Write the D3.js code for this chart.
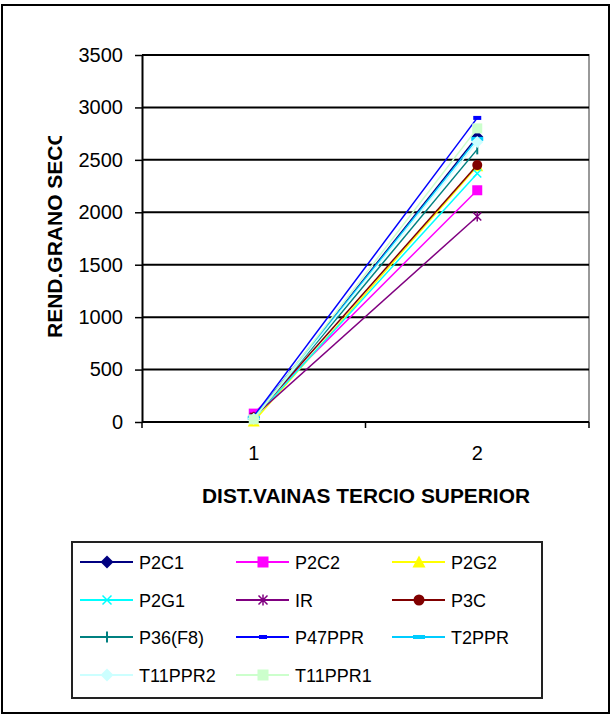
<!DOCTYPE html>
<html><head><meta charset="utf-8">
<script src="https://cdn.jsdelivr.net/npm/d3@7"></script>
<style>body{margin:0;background:#fff}svg{display:block;font-family:"Liberation Sans",Arial,sans-serif}</style>
</head><body><svg id="c" width="613" height="719"></svg>
<script>
const categories = ["1", "2"];
const seriesNames = ["P2C1","P2C2","P2G2","P2G1","IR","P3C","P36(F8)","P47PPR","T2PPR","T11PPR2","T11PPR1"];
const seriesValues = [
  [40, 2720],
  [80, 2210],
  [5, 2440],
  [30, 2370],
  [50, 1960],
  [45, 2450],
  [35, 2600],
  [55, 2900],
  [40, 2700],
  [30, 2670],
  [25, 2800]
];
const seriesColors = ["#000080","#FF00FF","#FFFF00","#00FFFF","#800080","#800000","#008080","#0000FF","#00CCFF","#CCFFFF","#CCFFCC"];
const seriesMarkers = ["diamond","square","triangle","x","star","circle","plus","dash","longdash","diamond","square"];
const yTicks = [0,500,1000,1500,2000,2500,3000,3500];
const xTitle = "DIST.VAINAS TERCIO SUPERIOR";
const yTitle = "REND.GRANO SECO";

const svg = d3.select("#c");
const L = 142, R = 589, T = 55, B = 422;
const y = d3.scaleLinear().domain([0,3500]).range([B,T]);
const x = d3.scalePoint().domain(categories).range([L,R]).padding(0.5);

// outer border
svg.append("rect").attr("x",2).attr("y",5).attr("width",607).attr("height",708)
  .attr("fill","#fff").attr("stroke","#000").attr("stroke-width",2);

// plot area border (gray top & right)
svg.append("path").attr("d",`M${L},${T}H${R}V${B}`).attr("fill","none").attr("stroke","#999").attr("stroke-width",2);

// gridlines
svg.append("g").selectAll("line").data(yTicks.filter(d=>d>0)).join("line")
  .attr("x1",L).attr("x2",R).attr("y1",d=>y(d)).attr("y2",d=>y(d))
  .attr("stroke","#000").attr("stroke-width",2);

// y axis
const ya = svg.append("g").attr("transform",`translate(${L},0)`)
  .call(d3.axisLeft(y).tickValues(yTicks).tickFormat(d3.format("d")).tickSize(7).tickPadding(12).tickSizeOuter(0));
ya.select(".domain").attr("stroke","#000").attr("stroke-width",2);
ya.selectAll(".tick line").attr("stroke","#000").attr("stroke-width",1.5);
ya.selectAll(".tick text").attr("font-size",20).attr("fill","#000").attr("font-family","Liberation Sans, Arial, sans-serif");

// x axis
svg.append("line").attr("x1",L).attr("x2",R).attr("y1",B).attr("y2",B).attr("stroke","#000").attr("stroke-width",2);
const step = x.step();
const bounds = [L, ...categories.map(c=>x(c)+step/2)];
svg.append("g").selectAll("line").data(bounds).join("line")
  .attr("x1",d=>d).attr("x2",d=>d).attr("y1",B).attr("y2",B+6).attr("stroke","#000").attr("stroke-width",1.5);
svg.append("g").selectAll("text").data(categories).join("text")
  .attr("x",d=>x(d)).attr("y",460).attr("text-anchor","middle").attr("font-size",20).text(d=>d);

// titles
svg.append("text").attr("x",366).attr("y",503).attr("text-anchor","middle")
  .attr("font-size",21).attr("font-weight","bold").attr("textLength",328).attr("lengthAdjust","spacingAndGlyphs")
  .text(xTitle);
svg.append("clipPath").attr("id","yclip").append("rect").attr("x",0).attr("y",136).attr("width",140).attr("height",300);
svg.append("g").attr("clip-path","url(#yclip)").append("text")
  .attr("transform","translate(62,338) rotate(-90)").attr("text-anchor","start")
  .attr("font-size",21).attr("font-weight","bold").text(yTitle);

// markers
function marker(g, type, color, s) {
  const h = s/2;
  switch(type){
    case "diamond": g.append("path").attr("d",`M0,${-h-1}L${h+1},0L0,${h+1}L${-h-1},0Z`).attr("fill",color); break;
    case "square": g.append("rect").attr("x",-h).attr("y",-h).attr("width",s).attr("height",s).attr("fill",color); break;
    case "triangle": g.append("path").attr("d",`M0,${-h-1}L${h+1},${h}L${-h-1},${h}Z`).attr("fill",color); break;
    case "circle": g.append("circle").attr("r",h).attr("fill",color); break;
    case "x": g.append("path").attr("d",`M${-h+1},${-h+1}L${h-1},${h-1}M${h-1},${-h+1}L${-h+1},${h-1}`).attr("stroke",color).attr("stroke-width",1.5); break;
    case "star": g.append("path").attr("d",`M${-h+1},${-h+1}L${h-1},${h-1}M${h-1},${-h+1}L${-h+1},${h-1}M0,${-h}V${h}`).attr("stroke",color).attr("stroke-width",1.5); break;
    case "plus": g.append("path").attr("d",`M0,${-h}V${h}`).attr("stroke",color).attr("stroke-width",2); break;
    case "dash": g.append("rect").attr("x",-4).attr("y",-2).attr("width",8).attr("height",4).attr("fill",color); break;
    case "longdash": g.append("rect").attr("x",-6).attr("y",-2).attr("width",12).attr("height",4).attr("fill",color); break;
  }
}

const line = d3.line().x((d,i)=>x(categories[i])).y(d=>y(d));
seriesNames.forEach((name,si)=>{
  const g = svg.append("g");
  g.append("path").attr("d",line(seriesValues[si])).attr("fill","none")
    .attr("stroke",seriesColors[si]).attr("stroke-width",1.5);
  seriesValues[si].forEach((v,i)=>{
    const m = g.append("g").attr("transform",`translate(${x(categories[i])},${y(v)})`);
    marker(m, seriesMarkers[si], seriesColors[si], 10);
  });
});

// legend
svg.append("rect").attr("x",72).attr("y",542).attr("width",470).attr("height",156)
  .attr("fill","#fff").attr("stroke","#222").attr("stroke-width",2);
const rowsY = [562,600,637,675];
const colsX = [80,236,392];
seriesNames.forEach((name,si)=>{
  const r = Math.floor(si/3), c = si%3;
  const lx = colsX[c], ly = rowsY[r];
  const g = svg.append("g");
  g.append("line").attr("x1",lx).attr("x2",lx+53).attr("y1",ly).attr("y2",ly).attr("stroke",seriesColors[si]).attr("stroke-width",2);
  const m = g.append("g").attr("transform",`translate(${lx+27},${ly})`);
  marker(m, seriesMarkers[si], seriesColors[si], 11);
  g.append("text").attr("x",lx+59).attr("y",ly+7).attr("font-size",18).attr("fill","#000").text(name);
});
</script></body></html>
